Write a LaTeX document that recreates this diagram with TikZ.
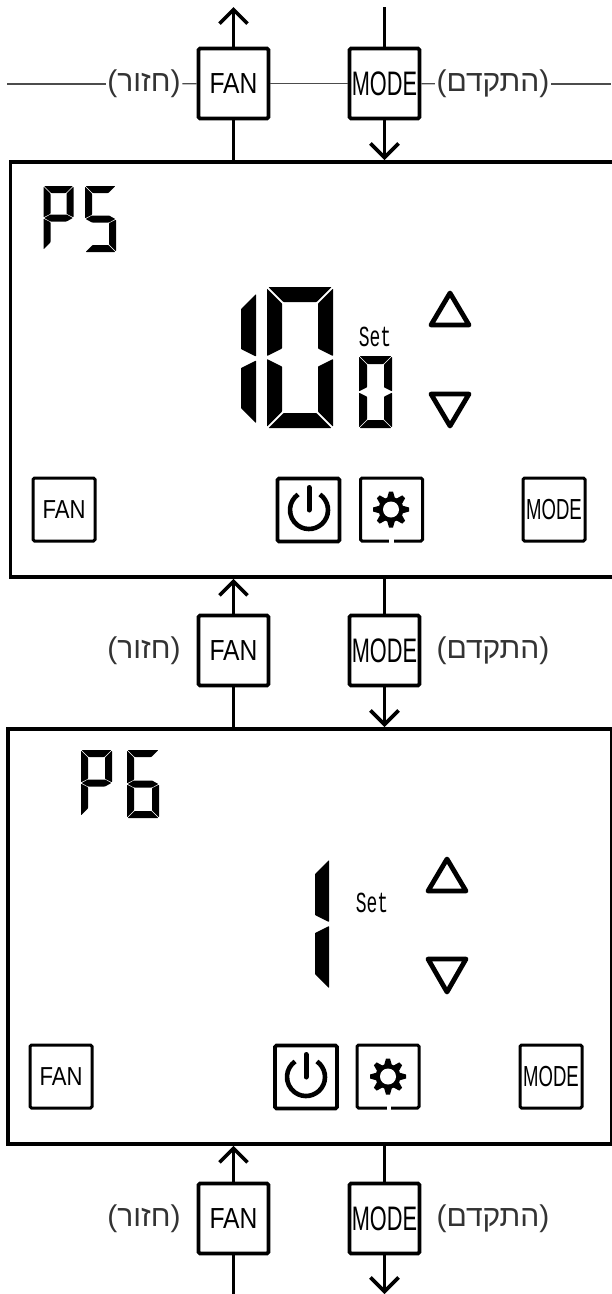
\documentclass[tikz,border=0pt]{standalone}
\usepackage{fontspec}
\usetikzlibrary{arrows.meta,positioning}
\TeXXeTstate=1
\setmainfont{Liberation Sans}
\newfontfamily\hebfont[Script=Hebrew]{Liberation Sans}
\newfontfamily\fanfont[FakeStretch=0.85]{Liberation Sans}
\newfontfamily\modefont[FakeStretch=0.64]{Liberation Sans}
\newfontfamily\setfont[FakeStretch=0.62]{Liberation Mono}

\tikzset{
  keybox/.style = {draw, line width=3.8pt, rounded corners=1.5pt, minimum width=70pt, minimum height=70pt, inner sep=0pt},
  btnbox/.style = {draw, line width=3pt, rounded corners=1.5pt, minimum width=62pt, minimum height=63pt, inner sep=0pt},
  panelbox/.style = {draw, line width=3.8pt, inner sep=0pt},
  hebtext/.style = {text=black!80, inner sep=1.5pt, font=\hebfont\fontsize{30}{30}\selectfont},
  thinline/.style = {line width=1.2pt, draw=black!70},
  link/.style = {line width=3.6pt},
  linkarrow/.style = {link, -{Straight Barb[length=14pt,width=28pt,line width=3.6pt]}},
  triangle/.style = {line width=4.8pt, line join=round},
  seg/.style = {fill=black, rounded corners=0.6pt},
}

% seven segment parts, sizes come from \lcddigit
\newcommand{\segA}{\fill[seg] (\lcdg,0) -- (\lcdw-\lcdg,0) -- (\lcdw-\lcdt-\lcdg,\lcdt) -- (\lcdt+\lcdg,\lcdt) -- cycle;}
\newcommand{\segB}{\fill[seg] (\lcdw,\lcdg) -- (\lcdw,\lcdh/2-\lcdg) -- (\lcdw-\lcdt,\lcdh/2-\lcdt/2-\lcdg) -- (\lcdw-\lcdt,\lcdt+\lcdg) -- cycle;}
\newcommand{\segC}{\fill[seg] (\lcdw,\lcdh/2+\lcdg) -- (\lcdw,\lcdh-\lcdg) -- (\lcdw-\lcdt,\lcdh-\lcdt-\lcdg) -- (\lcdw-\lcdt,\lcdh/2+\lcdt/2+\lcdg) -- cycle;}
\newcommand{\segD}{\fill[seg] (\lcdg,\lcdh) -- (\lcdw-\lcdg,\lcdh) -- (\lcdw-\lcdt-\lcdg,\lcdh-\lcdt) -- (\lcdt+\lcdg,\lcdh-\lcdt) -- cycle;}
\newcommand{\segE}{\fill[seg] (0,\lcdh/2+\lcdg) -- (0,\lcdh-\lcdg) -- (\lcdt,\lcdh-\lcdt-\lcdg) -- (\lcdt,\lcdh/2+\lcdt/2+\lcdg) -- cycle;}
\newcommand{\segF}{\fill[seg] (0,\lcdg) -- (0,\lcdh/2-\lcdg) -- (\lcdt,\lcdh/2-\lcdt/2-\lcdg) -- (\lcdt,\lcdt+\lcdg) -- cycle;}
\newcommand{\segG}{\fill[seg] (\lcdg,\lcdh/2) -- (\lcdt,\lcdh/2-\lcdt/2) -- (\lcdw-\lcdt,\lcdh/2-\lcdt/2) -- (\lcdw-\lcdg,\lcdh/2) -- (\lcdw-\lcdt,\lcdh/2+\lcdt/2) -- (\lcdt,\lcdh/2+\lcdt/2) -- cycle;}
% #1 = top left, #2 = width, #3 = height, #4 = thickness, #5 = gap, #6 = segments
\newcommand{\lcddigit}[6]{
  \begin{scope}[shift={(#1)}]
    \def\lcdw{#2}\def\lcdh{#3}\def\lcdt{#4}\def\lcdg{#5}
    \foreach \s in {#6} {\csname seg\s\endcsname}
  \end{scope}
}
\newcommand{\powericon}[1]{
  \begin{scope}[shift={(#1)}]
    \draw[line width=4.6pt] (-55:19) arc (-55:235:19);
    \draw[line width=5pt, line cap=round] (0,-22.5) -- (0,0);
  \end{scope}
}
\newcommand{\gearicon}[1]{
  \begin{scope}[shift={(#1)}]
    \fill (0,0) circle [radius=12.5];
    \foreach \a in {0,45,...,315} {
      \fill[rotate=\a] (-4,-11) -- (-2,-18) -- (2,-18) -- (4,-11) -- cycle;
    }
    \fill[white] (0,0) circle [radius=8];
  \end{scope}
}

\begin{document}
\begin{tikzpicture}[x=1pt, y=-1pt]
  \useasboundingbox (0,0) rectangle (611,1294);

  % the two screens
  \node[panelbox, minimum width=620pt, minimum height=415pt, anchor=north west] (screenA) at (8.5,160) {};
  \node[panelbox, minimum width=604pt, minimum height=415pt, anchor=north west] (screenB) at (6,727) {};

  % top row
  \node[keybox] (fanA) at (233.5,83.5) {\fanfont\fontsize{29}{29}\selectfont FAN};
  \node[keybox] (modeA) at (384.5,83.5) {\modefont\fontsize{34}{34}\selectfont MODE};
  \node[hebtext] (backA) at (144,84) {\beginR(חזור)\endR};
  \node[hebtext] (nextA) at (493,84) {\beginR(התקדם)\endR};
  \coordinate (leftA) at (7,84);
  \coordinate (rightA) at (611,84);
  \coordinate (upA) at (233.5,7);
  \coordinate (inA) at (384.5,7);
  \draw[thinline] (leftA) -- (backA);
  \draw[thinline] (backA) -- (fanA);
  \draw[thinline] (fanA) -- (modeA);
  \draw[thinline] (modeA) -- (nextA);
  \draw[thinline] (nextA) -- (rightA);
  \draw[linkarrow] (fanA) -- (upA);
  \draw[link] (inA) -- (modeA);
  \draw[link] (fanA) -- (fanA |- screenA.north);
  \draw[linkarrow] (modeA) -- (modeA |- screenA.north);

  % middle row
  \node[keybox] (fanB) at (233.5,650.5) {\fanfont\fontsize{29}{29}\selectfont FAN};
  \node[keybox] (modeB) at (384.5,650.5) {\modefont\fontsize{34}{34}\selectfont MODE};
  \node[hebtext] (backB) at (144,651) {\beginR(חזור)\endR};
  \node[hebtext] (nextB) at (493,651) {\beginR(התקדם)\endR};
  \draw[linkarrow] (fanB) -- (fanB |- screenA.south);
  \draw[link] (modeB) -- (modeB |- screenA.south);
  \draw[link] (fanB) -- (fanB |- screenB.north);
  \draw[linkarrow] (modeB) -- (modeB |- screenB.north);

  % bottom row
  \node[keybox] (fanC) at (233.5,1218.5) {\fanfont\fontsize{29}{29}\selectfont FAN};
  \node[keybox] (modeC) at (384.5,1218.5) {\modefont\fontsize{34}{34}\selectfont MODE};
  \node[hebtext] (backC) at (144,1219) {\beginR(חזור)\endR};
  \node[hebtext] (nextC) at (493,1219) {\beginR(התקדם)\endR};
  \coordinate (endFan) at (233.5,1294);
  \coordinate (endMode) at (384.5,1294);
  \draw[linkarrow] (fanC) -- (fanC |- screenB.south);
  \draw[link] (modeC) -- (modeC |- screenB.south);
  \draw[link] (fanC) -- (endFan);
  \draw[linkarrow] (modeC) -- (endMode);

  % first screen
  \lcddigit{43.5,186}{30}{64}{7}{0.7}{A,B,E,F,G}
  \lcddigit{85,186}{31}{66}{7}{0.7}{A,F,G,C,D}
  \lcddigit{241,292}{15}{133}{15}{2}{B,C}
  \lcddigit{267,287}{66}{141}{15}{1.5}{A,B,C,D,E,F}
  \lcddigit{359,356}{33}{72}{8}{0.7}{A,B,C,D,E,F}
  \node[font=\setfont\fontsize{29}{29}\selectfont, inner sep=0pt] (setA) at (375,337) {Set};
  \draw[triangle] (431,325) -- (469,325) -- (450,293) -- cycle;
  \draw[triangle] (431,394) -- (469,394) -- (450,426) -- cycle;
  \node[btnbox] (btnFanA) at (64,509.5) {\fanfont\fontsize{26}{26}\selectfont FAN};
  \node[btnbox, line width=3.6pt] (btnPowerA) at (308.5,510) {};
  \node[btnbox] (btnGearA) at (391.5,509.5) {};
  \node[btnbox] (btnModeA) at (554,509.5) {\modefont\fontsize{29}{29}\selectfont MODE};
  \powericon{309,510}
  \gearicon{391,509.5}
  \fill[white] (389,538) rectangle (393.5,544);

  % second screen
  \lcddigit{81,750}{31}{66}{7}{0.7}{A,B,E,F,G}
  \lcddigit{127,750}{32}{68}{7}{0.7}{A,F,G,C,D,E}
  \lcddigit{315,858}{14}{132}{14}{2}{B,C}
  \node[font=\setfont\fontsize{29}{29}\selectfont, inner sep=0pt] (setB) at (372,903) {Set};
  \draw[triangle] (428,891) -- (466,891) -- (447,859) -- cycle;
  \draw[triangle] (428,959) -- (466,959) -- (447,992) -- cycle;
  \node[btnbox] (btnFanB) at (61,1076.5) {\fanfont\fontsize{26}{26}\selectfont FAN};
  \node[btnbox, line width=3.6pt] (btnPowerB) at (306,1077) {};
  \node[btnbox] (btnGearB) at (388,1076.5) {};
  \node[btnbox] (btnModeB) at (551,1076.5) {\modefont\fontsize{29}{29}\selectfont MODE};
  \powericon{306,1077}
  \gearicon{388,1076.5}
  \fill[white] (386.5,1105) rectangle (390.5,1111);
\end{tikzpicture}
\end{document}
